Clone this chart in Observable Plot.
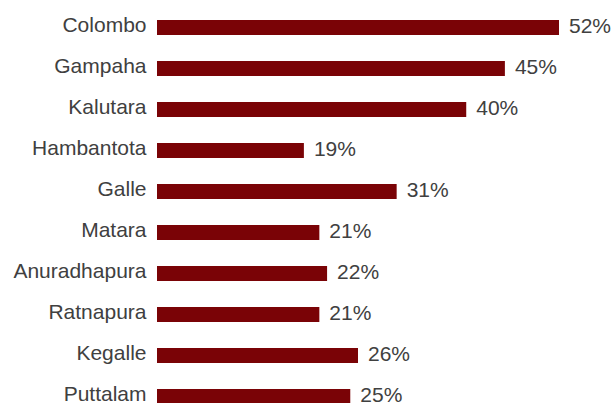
<!DOCTYPE html>
<html>
<head>
<meta charset="utf-8">
<script src="https://cdn.jsdelivr.net/npm/d3@7"></script>
<script src="https://cdn.jsdelivr.net/npm/@observablehq/plot@0.6"></script>
<style>
  html, body { margin: 0; padding: 0; background: #ffffff; overflow: hidden; }
</style>
</head>
<body>
<div id="chart"></div>
<script>
const districts = ["Colombo", "Gampaha", "Kalutara", "Hambantota", "Galle", "Matara", "Anuradhapura", "Ratnapura", "Kegalle", "Puttalam"];
const shares = [52, 45, 40, 19, 31, 21, 22, 21, 26, 25];

const data = districts.map((d, i) => ({district: d, share: shares[i]}));

const chart = Plot.plot({
  width: 611,
  height: 403,
  margin: 0,
  style: {fontFamily: "'Liberation Sans', Arial, sans-serif", fontSize: "21px", color: "#404040", background: "#ffffff", overflow: "visible"},
  x: {domain: [0, 52], range: [157, 559], axis: null},
  y: {domain: districts, range: [18, 405.4], paddingInner: 0.637, paddingOuter: 0, axis: null},
  marks: [
    Plot.barX(data, {x: "share", y: "district", fill: "#7a0306"}),
    Plot.text(data, {x: "share", y: "district", text: d => d.share + "%", textAnchor: "start", dx: 9.5, dy: -2, fontSize: 21, fill: "#404040"}),
    Plot.text(data, {x: 0, y: "district", text: "district", textAnchor: "end", dx: -11, dy: -3, fontSize: 21, fill: "#404040"})
  ]
});
document.getElementById("chart").appendChild(chart);
</script>
</body>
</html>
